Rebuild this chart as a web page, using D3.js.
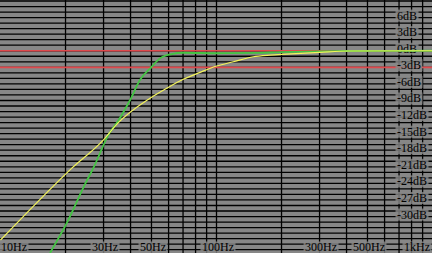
<!DOCTYPE html>
<html>
<head>
<meta charset="utf-8">
<script src="https://cdn.jsdelivr.net/npm/d3@7"></script>
<style>
  html, body { margin: 0; padding: 0; background: #878787; overflow: hidden; }
  svg { display: block; }
</style>
</head>
<body>
<svg class="reponse"></svg>
<script>

// valeurs
let freqGrille = [20, 30, 40, 50, 60, 70, 80, 90, 100, 200, 300, 400, 500, 600, 700, 800, 900];
let dbGrille = d3.range(9, -37, -1);
let dbLabels = [6, 3, 0, -3, -6, -9, -12, -15, -18, -21, -24, -27, -30];
let freqLabels = [10, 30, 50, 100, 300, 500, 1000];
let freqTextes = ["10Hz", "30Hz", "50Hz", "100Hz", "300Hz", "500Hz", "1kHz"];
let lignesRouges = [0, -3];

// courbe verte (pente raide)
let vertFreq = [16.95, 20.25, 24.6, 26.9, 32.1, 34.2, 39.8, 44.2, 50.1, 54.7, 62.0, 70.2, 100, 150, 200, 300, 400, 1000];
let vertDb   = [-36.6, -31.2, -24.17, -21.23, -14.77, -13.32, -8.92, -5.3, -2.9, -1.38, -0.6, -0.36, -0.45, -0.4, -0.25, -0.12, -0.05, 0];

// courbe jaune (pente douce)
let jauneFreq = [10, 17.9, 21.4, 29.9, 34.5, 49.2, 58.8, 70.2, 83.9, 100.2, 119.6, 148, 177, 211, 301, 407, 1000];
let jauneDb   = [-34.25, -24.17, -21.23, -16.16, -13.32, -8.61, -6.8, -5.17, -3.91, -2.77, -1.99, -1.09, -0.78, -0.6, -0.29, -0.05, 0];

w = 432;
h = 253;

let svg = d3.select(".reponse")
    .attr("width", w)
    .attr("height", h);

let x = d3.scaleLog()
    .domain([10, 1000])
    .range([0.5, 432.5]);

let y = d3.scaleLinear()
    .domain([9, -36])
    .range([1, 249.7]);

//Fond
svg.append("rect")
  .attr("width", w)
  .attr("height", h)
  .style("fill", "#878787");

//Grille horizontale
svg.append("g")
  .selectAll("line")
  .data(dbGrille)
  .enter()
  .append("line")
  .attr("x1", 0)
  .attr("x2", w)
  .attr("y1", d => y(d))
  .attr("y2", d => y(d))
  .style("stroke", "#000")
  .style("stroke-width", 1.3);

//Grille verticale
svg.append("g")
  .selectAll("line")
  .data(freqGrille)
  .enter()
  .append("line")
  .attr("x1", d => x(d))
  .attr("x2", d => x(d))
  .attr("y1", 0)
  .attr("y2", h)
  .style("stroke", "#000")
  .style("stroke-width", 1.3);

//Lignes 0dB et -3dB
svg.append("g")
  .selectAll("line")
  .data(lignesRouges)
  .enter()
  .append("line")
  .attr("x1", 0)
  .attr("x2", w)
  .attr("y1", d => y(d))
  .attr("y2", d => y(d))
  .style("stroke", "#e0484c")
  .style("stroke-width", 1.7);

//Etiquettes dB
let etiqDb = svg.append("g")
  .selectAll("g")
  .data(dbLabels)
  .enter()
  .append("g");

etiqDb.append("text")
  .attr("x", 397)
  .attr("y", d => y(d) + 2)
  .style("font-family", "'Liberation Serif', serif")
  .style("font-size", "12px")
  .style("fill", "#000")
  .text(d => d + "dB");

etiqDb.each(function() {
  let t = d3.select(this).select("text");
  let b = t.node().getBBox();
  d3.select(this).insert("rect", "text")
    .attr("x", b.x - 1.5)
    .attr("y", b.y + 1)
    .attr("width", b.width + 3)
    .attr("height", b.height - 2)
    .style("fill", "#878787")
    .style("opacity", 0.8);
});

//Etiquettes Hz
let etiqHz = svg.append("g")
  .selectAll("g")
  .data(freqLabels)
  .enter()
  .append("g");

etiqHz.append("text")
  .attr("x", (d, i) => i === 0 ? 1 : i === freqLabels.length - 1 ? 430 : x(d) + 1.5)
  .attr("y", 251)
  .attr("text-anchor", (d, i) => i === 0 ? "start" : i === freqLabels.length - 1 ? "end" : "middle")
  .style("font-family", "'Liberation Serif', serif")
  .style("font-size", "12px")
  .style("fill", "#000")
  .text((d, i) => freqTextes[i]);

etiqHz.each(function() {
  let t = d3.select(this).select("text");
  let b = t.node().getBBox();
  d3.select(this).insert("rect", "text")
    .attr("x", b.x - 1.5)
    .attr("y", b.y + 1.5)
    .attr("width", b.width + 3)
    .attr("height", b.height)
    .style("fill", "#878787")
    .style("opacity", 0.8);
});

//Courbes
let ligne = d3.line()
  .x(d => x(d[0]))
  .y(d => y(d[1]))
  .curve(d3.curveMonotoneX);

svg.append("path")
  .datum(vertFreq.map((f, i) => [f, vertDb[i]]))
  .attr("d", ligne)
  .style("fill", "none")
  .style("stroke", "#44c444")
  .style("stroke-width", 1.8);

svg.append("path")
  .datum(jauneFreq.map((f, i) => [f, jauneDb[i]]))
  .attr("d", ligne)
  .style("fill", "none")
  .style("stroke", "#f4f45a")
  .style("stroke-width", 1.2);

</script>
</body>
</html>
